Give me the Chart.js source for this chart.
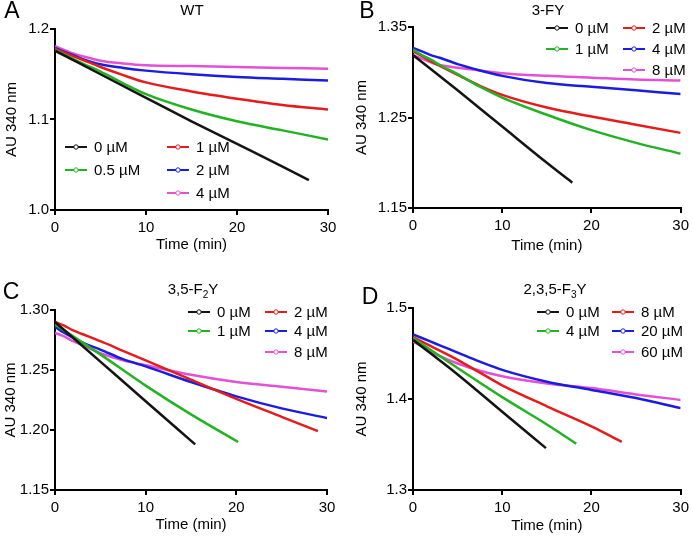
<!DOCTYPE html>
<html>
<head>
<meta charset="utf-8">
<script src="https://cdn.jsdelivr.net/npm/chart.js@4"></script>
<style>
  body { margin: 0; background: #fff; }
  #wrap { position: relative; width: 693px; height: 536px; background: #fff; }
  canvas { position: absolute; }
</style>
</head>
<body>
<div id="wrap">
  <canvas id="chartA" width="346" height="268" style="left:0;top:0"></canvas>
  <canvas id="chartB" width="347" height="268" style="left:346px;top:0"></canvas>
  <canvas id="chartC" width="346" height="268" style="left:0;top:268px"></canvas>
  <canvas id="chartD" width="347" height="268" style="left:346px;top:268px"></canvas>
</div>
<script>
// shared time grid (min) for traces that run the full 30 min
var times = [0, 1, 2, 3, 5, 7.5, 10, 15, 20, 25, 30];
var colors = ['#141414', '#22b322', '#e51c1c', '#1c1ce0', '#e352d6'];
var xTicks = [0, 10, 20, 30];

// A - WT
var wtLabels = ['0 \u00b5M', '0.5 \u00b5M', '1 \u00b5M', '2 \u00b5M', '4 \u00b5M'];
var wtTime0 = [0, 5, 10, 15, 20, 25, 27.9];
var wt0 = [1.176, 1.150, 1.124, 1.098, 1.073, 1.048, 1.033];
var wt05 = [1.177, 1.172, 1.167, 1.162, 1.153, 1.140, 1.128, 1.111, 1.098, 1.088, 1.078];
var wt1 = [1.178, 1.174, 1.170, 1.166, 1.158, 1.149, 1.141, 1.131, 1.123, 1.116, 1.111];
var wt2 = [1.179, 1.175, 1.171, 1.167, 1.161, 1.157, 1.154, 1.150, 1.147, 1.145, 1.143];
var wt4 = [1.181, 1.177, 1.173, 1.170, 1.165, 1.162, 1.160, 1.159, 1.158, 1.157, 1.156];
var wtTicks = [1.0, 1.1, 1.2];

// B - 3-FY
var fyLabels = ['0 \u00b5M', '1 \u00b5M', '2 \u00b5M', '4 \u00b5M', '8 \u00b5M'];
var fyTime0 = [0, 5, 10, 15, 17.85];
var fy0 = [1.319, 1.280, 1.240, 1.200, 1.178];
var fy1 = [1.325, 1.319, 1.314, 1.308, 1.298, 1.284, 1.272, 1.253, 1.236, 1.222, 1.210];
var fy2 = [1.323, 1.318, 1.312, 1.307, 1.297, 1.285, 1.275, 1.261, 1.251, 1.242, 1.233];
var fy4 = [1.327, 1.323, 1.319, 1.316, 1.309, 1.302, 1.296, 1.288, 1.284, 1.280, 1.276];
var fy8 = [1.319, 1.315, 1.311, 1.308, 1.305, 1.302, 1.299, 1.296, 1.294, 1.292, 1.291];
var fyTicks = [1.15, 1.25, 1.35];

// C - 3,5-F2Y
var f2Labels = ['0 \u00b5M', '1 \u00b5M', '2 \u00b5M', '4 \u00b5M', '8 \u00b5M'];
var f2Time0 = [0, 5, 10, 15.46];
var f20 = [1.290, 1.257, 1.224, 1.188];
var f2Time1 = [0, 5, 10, 15, 20.2];
var f21 = [1.288, 1.263, 1.237, 1.213, 1.190];
var f2Time2 = [0, 1, 2, 3, 5, 7.5, 10, 15, 20, 25, 29];
var f22 = [1.290, 1.287, 1.283, 1.280, 1.274, 1.266, 1.258, 1.242, 1.226, 1.211, 1.199];
var f24 = [1.286, 1.281, 1.277, 1.273, 1.267, 1.259, 1.253, 1.240, 1.228, 1.218, 1.210];
var f28 = [1.281, 1.278, 1.274, 1.271, 1.264, 1.258, 1.254, 1.246, 1.240, 1.236, 1.232];
var f2Ticks = [1.15, 1.20, 1.25, 1.30];

// D - 2,3,5-F3Y
var f3Labels = ['0 \u00b5M', '4 \u00b5M', '8 \u00b5M', '20 \u00b5M', '60 \u00b5M'];
var f3Time0 = [0, 5, 10, 14.9];
var f30 = [1.465, 1.427, 1.386, 1.346];
var f3Time4 = [0, 5, 10, 15, 18.3];
var f34 = [1.467, 1.434, 1.402, 1.372, 1.351];
var f3Time8 = [0, 2, 5, 7.5, 10, 15, 20, 23.4];
var f38 = [1.468, 1.458, 1.443, 1.429, 1.415, 1.392, 1.370, 1.353];
var f320 = [1.471, 1.467, 1.463, 1.459, 1.451, 1.441, 1.432, 1.419, 1.410, 1.401, 1.390];
var f360 = [1.463, 1.458, 1.452, 1.447, 1.439, 1.431, 1.425, 1.417, 1.412, 1.405, 1.399];
var f3Ticks = [1.3, 1.4, 1.5];

var FAMILY = "'Liberation Sans', Arial, sans-serif";

function toPoints(xs, ys){
	return ys.map(function(y, i){ return {x: xs[i], y: y}; });
}

function buildDatasets(labels, series){
	return series.map(function(s, i){
		return {
			label: labels[i],
			data: toPoints(s[0], s[1]),
			borderColor: colors[i],
			borderWidth: 2.5,
			pointRadius: 0,
			fill: false,
			cubicInterpolationMode: 'monotone'
		};
	});
}

// draws panel letter, title (with optional subscript) and the 2-column legend
var panelDecor = {
	id: 'panelDecor',
	afterDraw: function(chart, args, opts){
		var ctx = chart.ctx;
		ctx.save();
		ctx.fillStyle = '#000';
		ctx.textBaseline = 'middle';

		ctx.font = '23px ' + FAMILY;
		ctx.textAlign = 'center';
		ctx.fillText(opts.letter, opts.letterPos[0], opts.letterPos[1]);

		// title segments
		var total = 0;
		opts.title.forEach(function(seg){
			ctx.font = (seg.sub ? '10px ' : '15px ') + FAMILY;
			seg.w = ctx.measureText(seg.t).width;
			total += seg.w;
		});
		var x = opts.titlePos[0] - total / 2;
		ctx.textAlign = 'left';
		opts.title.forEach(function(seg){
			ctx.font = (seg.sub ? '10px ' : '15px ') + FAMILY;
			ctx.fillText(seg.t, x, opts.titlePos[1] + (seg.sub ? 5 : 0));
			x += seg.w;
		});

		// legend: first two items in column 1, the rest in column 2
		var lg = opts.legend;
		ctx.font = '15px ' + FAMILY;
		chart.data.datasets.forEach(function(ds, i){
			var col = i < 2 ? 0 : 1;
			var row = i < 2 ? i : i - 2;
			var lx = lg.cols[col];
			var ly = lg.rows[row];
			ctx.strokeStyle = ds.borderColor;
			ctx.lineWidth = 2;
			ctx.beginPath();
			ctx.moveTo(lx, ly);
			ctx.lineTo(lx + 22, ly);
			ctx.stroke();
			ctx.lineWidth = 1;
			ctx.fillStyle = '#fff';
			ctx.beginPath();
			ctx.arc(lx + 11, ly, 2.2, 0, Math.PI * 2);
			ctx.fill();
			ctx.stroke();
			ctx.fillStyle = '#000';
			ctx.fillText(ds.label, lx + 29, ly + 1);
		});
		ctx.restore();
	}
};

function makePanel(id, p){
	var font = {family: FAMILY, size: 15};
	return new Chart(document.getElementById(id), {
		type: 'line',
		data: {datasets: p.datasets},
		plugins: [panelDecor],
		options: {
			responsive: false,
			animation: false,
			devicePixelRatio: 1,
			layout: {padding: p.padding},
			plugins: {
				legend: {display: false},
				tooltip: {enabled: false},
				panelDecor: p.decor
			},
			scales: {
				x: {
					type: 'linear',
					min: 0,
					max: 30,
					afterBuildTicks: function(s){ s.ticks = xTicks.map(function(v){ return {value: v}; }); },
					afterFit: function(s){ s.height = p.xh; },
					ticks: {font: font, color: '#000', padding: 4, maxRotation: 0},
					grid: {drawOnChartArea: false, tickLength: 5, color: '#000', lineWidth: 2},
					border: {color: '#000', width: 2},
					title: {display: true, text: 'Time (min)', font: font, color: '#000', padding: 0}
				},
				y: {
					type: 'linear',
					min: p.yTicks[0],
					max: p.yTicks[p.yTicks.length - 1],
					afterBuildTicks: function(s){ s.ticks = p.yTicks.map(function(v){ return {value: v}; }); },
					afterFit: function(s){ s.width = p.yw; },
					ticks: {font: font, color: '#000', padding: 1, callback: function(v){ return v.toFixed(p.dec); }},
					grid: {drawOnChartArea: false, tickLength: 5, color: '#000', lineWidth: 2},
					border: {color: '#000', width: 2},
					title: {display: true, text: 'AU 340 nm', font: font, color: '#000', padding: {top: 2, bottom: 0}}
				}
			}
		}
	});
}

makePanel('chartA', {
	datasets: buildDatasets(wtLabels, [[wtTime0, wt0], [times, wt05], [times, wt1], [times, wt2], [times, wt4]]),
	yTicks: wtTicks, dec: 1,
	padding: {left: 1, top: 29, right: 18, bottom: 14}, yw: 54, xh: 44,
	decor: {letter: 'A', letterPos: [12, 12], title: [{t: 'WT'}], titlePos: [192, 11],
		legend: {cols: [65, 167], rows: [147, 170, 193]}}
});

makePanel('chartB', {
	datasets: buildDatasets(fyLabels, [[fyTime0, fy0], [times, fy1], [times, fy2], [times, fy4], [times, fy8]]),
	yTicks: fyTicks, dec: 2,
	padding: {left: 5, top: 27, right: 9, bottom: 13}, yw: 62, xh: 47,
	decor: {letter: 'B', letterPos: [21, 12], title: [{t: '3-FY'}], titlePos: [202, 11],
		legend: {cols: [200, 277], rows: [28, 49, 70]}}
});

makePanel('chartC', {
	datasets: buildDatasets(f2Labels, [[f2Time0, f20], [f2Time1, f21], [f2Time2, f22], [times, f24], [times, f28]]),
	yTicks: f2Ticks, dec: 2,
	padding: {left: 0, top: 42, right: 19, bottom: 2}, yw: 55, xh: 44,
	decor: {letter: 'C', letterPos: [11, 25], title: [{t: '3,5-F'}, {t: '2', sub: true}, {t: 'Y'}], titlePos: [193, 22],
		legend: {cols: [188, 265], rows: [44, 63, 84]}}
});

makePanel('chartD', {
	datasets: buildDatasets(f3Labels, [[f3Time0, f30], [f3Time4, f34], [f3Time8, f38], [times, f320], [times, f360]]),
	yTicks: f3Ticks, dec: 1,
	padding: {left: 5, top: 40, right: 9, bottom: 1}, yw: 62, xh: 45,
	decor: {letter: 'D', letterPos: [24, 30], title: [{t: '2,3,5-F'}, {t: '3', sub: true}, {t: 'Y'}], titlePos: [209, 22],
		legend: {cols: [191, 266], rows: [44, 63, 84]}}
});
</script>
</body>
</html>
